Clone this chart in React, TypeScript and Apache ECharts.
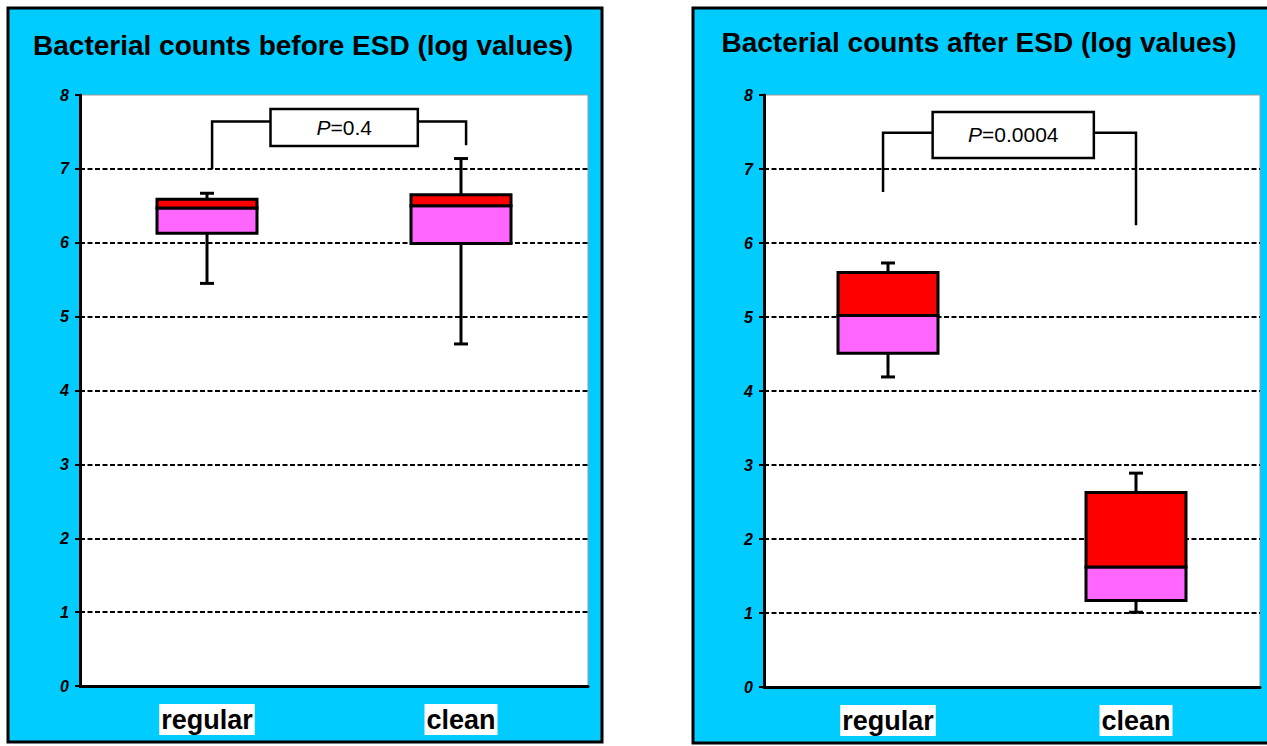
import React, { useEffect, useRef } from "react";
import * as echarts from "echarts";

// ---- data ----
const categories = ["regular", "clean"];
const panelTitles = [
  "Bacterial counts before ESD (log values)",
  "Bacterial counts after ESD (log values)",
];
const yTicks = [0, 1, 2, 3, 4, 5, 6, 7, 8];
// [min, q1, median, q3, max]
const beforeRegular = [5.45, 6.13, 6.47, 6.59, 6.67];
const beforeClean = [4.63, 5.99, 6.5, 6.65, 7.14];
const afterRegular = [4.19, 4.51, 5.02, 5.6, 5.73];
const afterClean = [1.01, 1.17, 1.62, 2.63, 2.89];
// significance brackets (x in category units: regular = 0, clean = 1)
const beforeBracketX = [0.02, 0.25, 0.83, 1.02]; // left leg, label box left, label box right, right leg
const beforeBracketY = [7.0, 7.64, 7.32]; // left foot, bar, right foot
const beforeLabelY = [7.31, 7.81]; // label box bottom, top
const afterBracketX = [-0.02, 0.18, 0.83, 1.0];
const afterBracketY = [6.69, 7.49, 6.24];
const afterLabelY = [7.15, 7.77];
const pValues = ["0.4", "0.0004"];

const FONT = '"Liberation Sans", Arial, sans-serif';
const RED = "#FF0000";
const PINK = "#FF66FF";

function renderBox(params: any, api: any) {
  const x = api.value(0);
  const [cx, yMin] = api.coord([x, api.value(1)]);
  const yQ1 = api.coord([x, api.value(2)])[1];
  const yMed = api.coord([x, api.value(3)])[1];
  const yQ3 = api.coord([x, api.value(4)])[1];
  const yMax = api.coord([x, api.value(5)])[1];
  const hw = 50;
  const cap = 7;
  const ls = { stroke: "#000", lineWidth: 3 };
  return {
    type: "group",
    children: [
      { type: "line", shape: { x1: cx, y1: yQ3, x2: cx, y2: yMax }, style: ls },
      { type: "line", shape: { x1: cx - cap, y1: yMax, x2: cx + cap, y2: yMax }, style: ls },
      { type: "line", shape: { x1: cx, y1: yQ1, x2: cx, y2: yMin }, style: ls },
      { type: "line", shape: { x1: cx - cap, y1: yMin, x2: cx + cap, y2: yMin }, style: ls },
      {
        type: "rect",
        shape: { x: cx - hw, y: yMed, width: hw * 2, height: yQ1 - yMed },
        style: { fill: PINK, stroke: "#000", lineWidth: 3 },
      },
      {
        type: "rect",
        shape: { x: cx - hw, y: yQ3, width: hw * 2, height: yMed - yQ3 },
        style: { fill: RED, stroke: "#000", lineWidth: 3 },
      },
    ],
  };
}

function makeBracketRenderer(pText: string) {
  return (params: any, api: any) => {
    const v = (i: number) => api.value(i);
    const c = (x: number, y: number) => api.coord([x, y]);
    const [legL, boxL, boxR, legR] = [v(0), v(1), v(2), v(3)];
    const [footL, bar, footR] = [v(4), v(5), v(6)];
    const [lb, lt] = [v(7), v(8)];
    const ls = { stroke: "#000", lineWidth: 2.5, fill: "none" };
    const p0 = c(boxL, lt);
    const p1 = c(boxR, lb);
    return {
      type: "group",
      children: [
        { type: "polyline", shape: { points: [c(legL, footL), c(legL, bar), c(boxL, bar)] }, style: ls },
        { type: "polyline", shape: { points: [c(boxR, bar), c(legR, bar), c(legR, footR)] }, style: ls },
        {
          type: "rect",
          shape: { x: p0[0], y: p0[1], width: p1[0] - p0[0], height: p1[1] - p0[1] },
          style: { fill: "#fff", stroke: "#000", lineWidth: 2.5 },
        },
        {
          type: "text",
          x: (p0[0] + p1[0]) / 2,
          y: (p0[1] + p1[1]) / 2,
          style: {
            text: "{i|P}=" + pText,
            fill: "#000",
            fontSize: 21,
            fontFamily: FONT,
            align: "center",
            verticalAlign: "middle",
            rich: { i: { fontStyle: "italic", fontSize: 21, fontFamily: FONT, fill: "#000" } },
          },
        },
      ],
    };
  };
}

function axesFor(gridIndex: number) {
  return {
    x: [
      {
        type: "category",
        gridIndex,
        data: categories,
        axisLine: { lineStyle: { color: "#000", width: 3 } },
        axisTick: { show: false },
        splitLine: { show: false },
        axisLabel: {
          fontSize: 27,
          fontWeight: "bold",
          fontFamily: FONT,
          color: "#000",
          backgroundColor: "#fff",
          padding: [0, 2, 0, 2],
          lineHeight: 31,
          margin: 18,
        },
      },
      { type: "value", gridIndex, min: -0.5, max: 1.5, show: false },
    ],
    y: {
      type: "value",
      gridIndex,
      min: yTicks[0],
      max: yTicks[yTicks.length - 1],
      interval: 1,
      axisLine: { show: true, onZero: false, lineStyle: { color: "#000", width: 3 } },
      axisTick: { show: true, length: 5, lineStyle: { color: "#000", width: 2 } },
      axisLabel: {
        fontSize: 16,
        fontWeight: "bold",
        fontStyle: "italic",
        fontFamily: FONT,
        color: "#000",
        margin: 11,
      },
      splitLine: {
        show: true,
        showMinLine: false,
        showMaxLine: false,
        lineStyle: { color: "#000", width: 2, type: [5, 2.5] },
      },
    },
  };
}

export default function App() {
  const ref = useRef<HTMLDivElement>(null);
  useEffect(() => {
    if (!ref.current) return;
    const chart = echarts.init(ref.current, null, { renderer: "svg" });
    const a0 = axesFor(0);
    const a1 = axesFor(1);
    const titleStyle = {
      fontSize: 28,
      fontWeight: "bold",
      fontFamily: FONT,
      fill: "#000",
      align: "center",
      verticalAlign: "middle",
    };
    const option: any = {
      animation: false,
      graphic: [
        {
          type: "rect",
          z: -10,
          shape: { x: 8, y: 8, width: 594, height: 734 },
          style: { fill: "#00CCFF", stroke: "#000", lineWidth: 3 },
        },
        {
          type: "rect",
          z: -10,
          shape: { x: 693, y: 8, width: 580, height: 735 },
          style: { fill: "#00CCFF", stroke: "#000", lineWidth: 3 },
        },
        { type: "text", x: 303, y: 45, style: { ...titleStyle, text: panelTitles[0] } },
        { type: "text", x: 979, y: 42, style: { ...titleStyle, text: panelTitles[1] } },
      ],
      grid: [
        {
          left: 80, top: 95, width: 508, height: 591,
          show: true, backgroundColor: "#fff", borderColor: "#9a9a9a", borderWidth: 1,
        },
        {
          left: 764, top: 95, width: 496, height: 592,
          show: true, backgroundColor: "#fff", borderColor: "#9a9a9a", borderWidth: 1,
        },
      ],
      xAxis: [...a0.x, ...a1.x],
      yAxis: [a0.y, a1.y],
      series: [
        {
          type: "custom",
          xAxisIndex: 1,
          yAxisIndex: 0,
          renderItem: renderBox,
          data: [[0, ...beforeRegular], [1, ...beforeClean]],
          z: 5,
        },
        {
          type: "custom",
          xAxisIndex: 1,
          yAxisIndex: 0,
          renderItem: makeBracketRenderer(pValues[0]),
          data: [[...beforeBracketX, ...beforeBracketY, ...beforeLabelY]],
          z: 5,
        },
        {
          type: "custom",
          xAxisIndex: 3,
          yAxisIndex: 1,
          renderItem: renderBox,
          data: [[0, ...afterRegular], [1, ...afterClean]],
          z: 5,
        },
        {
          type: "custom",
          xAxisIndex: 3,
          yAxisIndex: 1,
          renderItem: makeBracketRenderer(pValues[1]),
          data: [[...afterBracketX, ...afterBracketY, ...afterLabelY]],
          z: 5,
        },
      ],
    };
    chart.setOption(option);
    return () => chart.dispose();
  }, []);
  return (
    <div
      ref={ref}
      style={{ position: "absolute", left: 0, top: 0, width: 1267, height: 746, background: "#fff" }}
    />
  );
}
